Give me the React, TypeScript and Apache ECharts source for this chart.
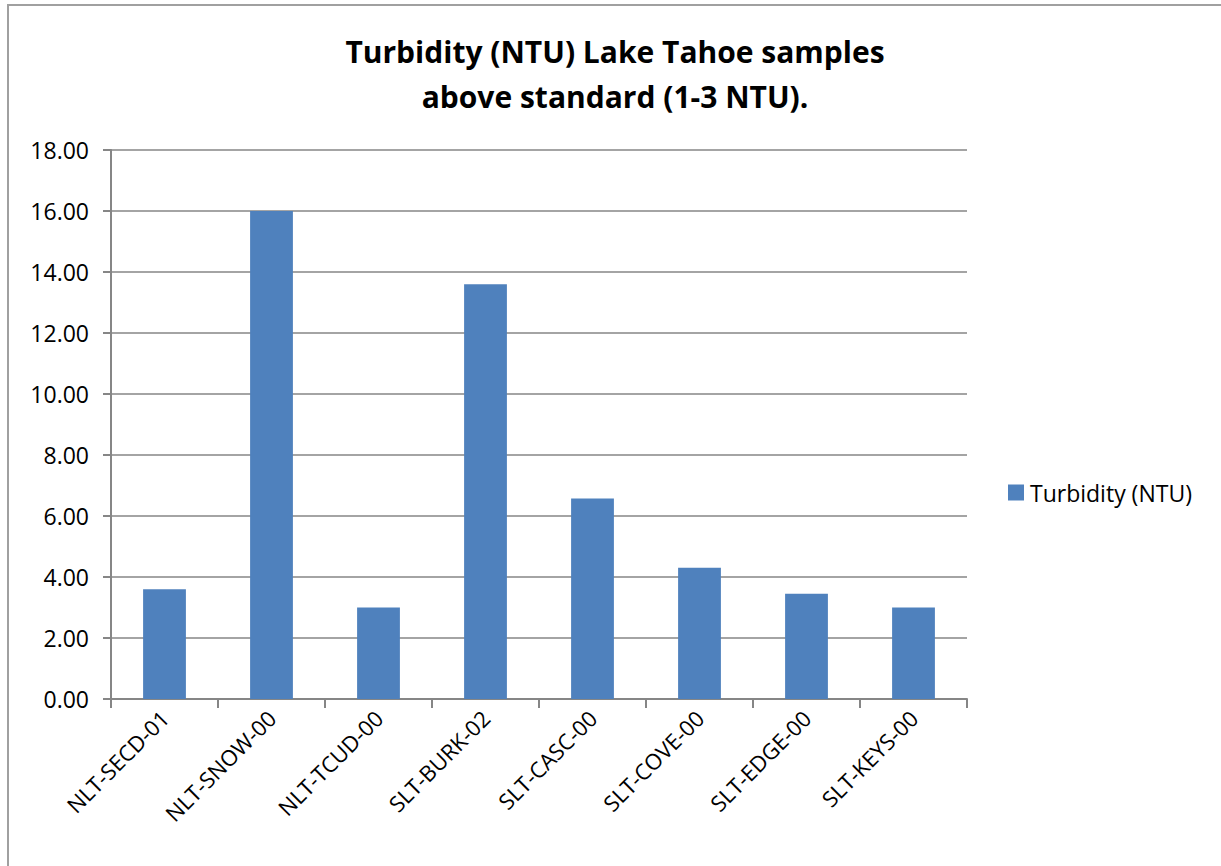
import React, { useEffect, useRef } from "react";
import * as echarts from "echarts";

const categories = [
  "NLT-SECD-01",
  "NLT-SNOW-00",
  "NLT-TCUD-00",
  "SLT-BURK-02",
  "SLT-CASC-00",
  "SLT-COVE-00",
  "SLT-EDGE-00",
  "SLT-KEYS-00",
];
const turbidity = [3.6, 16.0, 3.0, 13.6, 6.57, 4.3, 3.45, 3.0];
const seriesName = "Turbidity (NTU)";
const titleText = "Turbidity (NTU) Lake Tahoe samples\nabove standard (1-3 NTU).";

const FONT = "'Open Sans', 'Noto Sans', sans-serif";

export default function App() {
  const ref = useRef<HTMLDivElement>(null);
  useEffect(() => {
    document.body.style.margin = "0";
    const chart = echarts.init(ref.current!, null, { renderer: "svg" });
    chart.setOption({
      animation: false,
      backgroundColor: "#ffffff",
      title: {
        text: titleText,
        left: 615,
        textAlign: "center",
        top: 29,
        padding: 0,
        textStyle: {
          fontFamily: FONT,
          fontWeight: "bold",
          fontSize: 30,
          lineHeight: 45,
          color: "#000000",
        },
      },
      legend: {
        orient: "vertical",
        left: 1008,
        top: 481,
        padding: 0,
        icon: "rect",
        itemWidth: 16,
        itemHeight: 16,
        itemGap: 6,
        textStyle: { fontFamily: FONT, fontSize: 23, color: "#000000", padding: [0, 0, 0, 1] },
        data: [seriesName],
      },
      grid: { left: 111, right: 254, top: 150, bottom: 167, containLabel: false },
      xAxis: {
        type: "category",
        data: categories,
        boundaryGap: true,
        axisLine: { show: true, lineStyle: { color: "#868686", width: 2 } },
        axisTick: { show: true, length: 9, alignWithLabel: false, lineStyle: { color: "#868686", width: 2 } },
        axisLabel: {
          rotate: 45,
          interval: 0,
          margin: 15,
          fontFamily: FONT,
          fontSize: 22,
          color: "#000000",
        },
      },
      yAxis: {
        type: "value",
        min: 0,
        max: 18,
        interval: 2,
        axisLine: { show: true, lineStyle: { color: "#868686", width: 2 } },
        axisTick: { show: true, length: 8, lineStyle: { color: "#868686", width: 2 } },
        splitLine: { show: true, lineStyle: { color: "#868686", width: 1.5 } },
        axisLabel: {
          formatter: (v: number) => v.toFixed(2),
          margin: 22,
          fontFamily: FONT,
          fontSize: 23,
          color: "#000000",
        },
      },
      series: [
        {
          name: seriesName,
          type: "bar",
          data: turbidity,
          barCategoryGap: "60%",
          itemStyle: { color: "#4f81bd" },
        },
      ],
      graphic: [
        {
          type: "rect",
          silent: true,
          shape: { x: 8, y: 5, width: 1400, height: 1000 },
          style: { fill: "none", stroke: "#a0a0a0", lineWidth: 2 },
          z: 100,
        },
      ],
    });
    return () => chart.dispose();
  }, []);
  return <div ref={ref} style={{ width: 1221, height: 866 }} />;
}
